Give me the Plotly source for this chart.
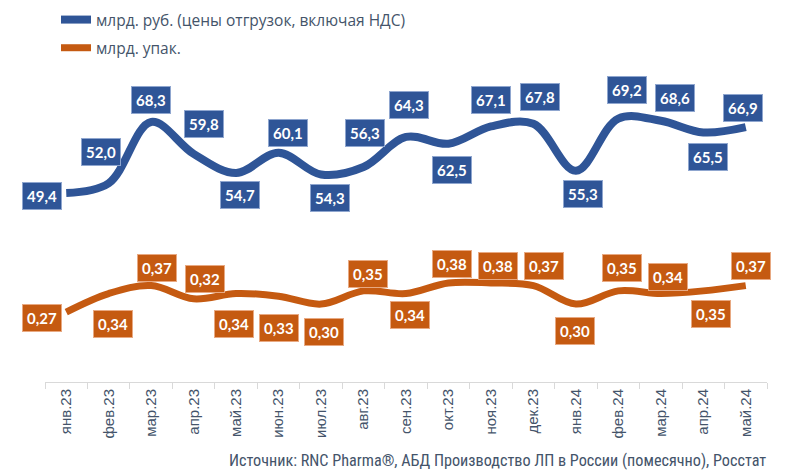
import plotly.graph_objects as go

months = ["янв.23", "фев.23", "мар.23", "апр.23", "май.23", "июн.23", "июл.23", "авг.23",
          "сен.23", "окт.23", "ноя.23", "дек.23", "янв.24", "фев.24", "мар.24", "апр.24", "май.24"]
rub = [49.4, 52.0, 68.3, 59.8, 54.7, 60.1, 54.3, 56.3, 64.3, 62.5, 67.1, 67.8, 55.3, 69.2, 68.6, 65.5, 66.9]
pack = [0.27, 0.34, 0.37, 0.32, 0.34, 0.33, 0.30, 0.35, 0.34, 0.38, 0.38, 0.37, 0.30, 0.35, 0.34, 0.35, 0.37]

rub_name = "млрд. руб. (цены отгрузок, включая НДС)"
pack_name = "млрд. упак."
source = "Источник: RNC Pharma®, АБД Производство ЛП в России (помесячно), Росстат"

BLUE = "#2F5597"
ORANGE = "#C55A11"
TXT = "#44546A"

# page offset of the figure inside the browser (default body margin) – styling only
OFF = 8
W, H = 800 - OFF, 476 - OFF
L, R, T, B = 45 - OFF, 33, 40 - OFF, 94
PW, PH = W - L - R, H - T - B


def px_x(sx):
    return (sx - OFF - L) / PW


def px_y(sy):
    return (T + PH - (sy - OFF)) / PH


# label offsets (pixels) – styling only
rub_dx = [-24, -8, 0, 10, 4, 9, 9, 1, 3, 4, 0, 7, 7, 9, 14, 5, -3]
rub_dy = [-3, 31, 22, 30, -22, 20, -23, 34, 32, -26, 26, 27, -23, 29, 23, -25, 19]
pack_dx = [-24, 4, 6, 11, -2, 0, 3, 4, 4, 4, 7, 11, -1, 4, 7, 8, 5]
pack_dy = [-6, -30, 18, 20, -30, -32, -28, 17, -21, 19, 17, 20, -27, 23, 17, -23, 20]

fig = go.Figure()
fig.add_trace(go.Scatter(x=months, y=rub, name=rub_name, mode="lines",
                         line=dict(color=BLUE, width=8, shape="spline", smoothing=1.0),
                         legendgroup="a", yaxis="y"))
fig.add_trace(go.Scatter(x=months, y=pack, name=pack_name, mode="lines",
                         line=dict(color=ORANGE, width=7, shape="spline", smoothing=1.0),
                         legendgroup="b", yaxis="y2"))

lbl_font = dict(family="Lato, Open Sans, sans-serif", size=15, color="white", weight="bold")
ann = []
for m, v, dx, dy in zip(months, rub, rub_dx, rub_dy):
    ann.append(dict(x=m, y=v, xref="x", yref="y", text=f"{v:.1f}".replace(".", ","),
                    showarrow=False, xshift=dx, yshift=dy, bgcolor=BLUE,
                    bordercolor="#8FA6CF", borderwidth=1, borderpad=4, font=lbl_font))
for m, v, dx, dy in zip(months, pack, pack_dx, pack_dy):
    ann.append(dict(x=m, y=v, xref="x", yref="y2", text=f"{v:.2f}".replace(".", ","),
                    showarrow=False, xshift=dx, yshift=dy, bgcolor=ORANGE,
                    bordercolor="#E8A982", borderwidth=1, borderpad=4, font=lbl_font))
ann.append(dict(xref="paper", yref="paper", x=px_x(768), y=px_y(460),
                xanchor="right", yanchor="middle", showarrow=False, text=source,
                font=dict(family="Liberation Sans Narrow, Roboto Condensed, sans-serif", size=16.2, color=TXT)))

fig.update_layout(
    width=W, height=H,
    margin=dict(l=L, r=R, t=T, b=B, autoexpand=False),
    paper_bgcolor="white", plot_bgcolor="white",
    showlegend=True,
    legend=dict(xref="paper", yref="paper", x=px_x(56), y=px_y(3),
                xanchor="left", yanchor="top", tracegroupgap=5, traceorder="grouped",
                font=dict(family="Open Sans, sans-serif", size=15.5, color=TXT),
                bgcolor="rgba(0,0,0,0)"),
    xaxis=dict(type="category", showgrid=False, showline=True, linecolor="#D9D9D9", linewidth=1,
               ticks="outside", tickson="boundaries", ticklen=6, tickcolor="#D9D9D9",
               tickangle=-90, tickfont=dict(family="Liberation Sans, Arial, sans-serif", size=15, color=TXT),
               range=[-0.5, 16.5], fixedrange=True, automargin=False),
    yaxis=dict(range=[-0.9, 90.1], visible=False, showgrid=False, zeroline=False),
    yaxis2=dict(range=[0.005, 1.30], overlaying="y", visible=False, showgrid=False, zeroline=False),
    annotations=ann,
)

fig.write_html("out.html")
